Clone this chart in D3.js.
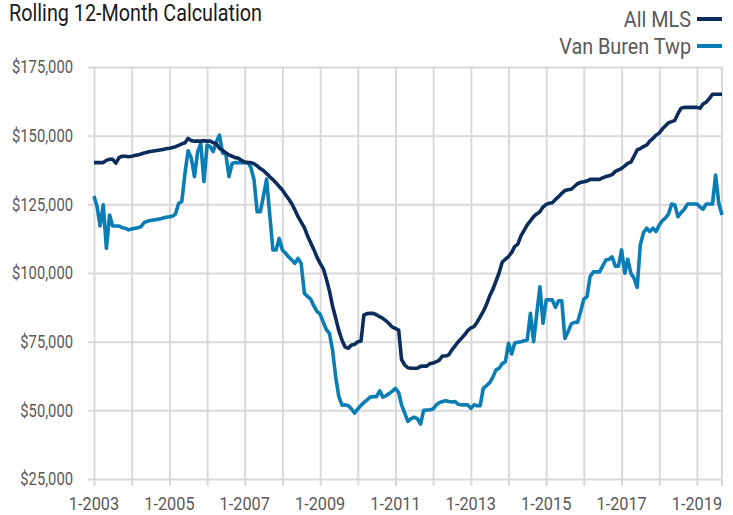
<!DOCTYPE html>
<html>
<head>
<meta charset="utf-8">
<script src="https://cdn.jsdelivr.net/npm/d3@7/dist/d3.min.js"></script>
<style>
  body { margin: 0; background: #fff; }
  svg text { font-family: "Liberation Sans Narrow", "Arial Narrow", Roboto, sans-serif; }
</style>
</head>
<body>
<div id="chart"></div>
<script>
// Rolling 12-month values, in thousands of dollars, monthly from 1-2003 to 9-2019
const allMls = [
  140.2, 140.2, 140.2, 140.2, 141.0, 141.4, 141.4, 140.0, 142.0, 142.5, 142.5, 142.3,
  142.5, 142.8, 143.0, 143.3, 143.7, 144.0, 144.2, 144.4, 144.6, 144.8, 145.0, 145.2,
  145.4, 145.7, 146.0, 146.5, 147.0, 147.4, 149.0, 148.2, 148.0, 148.0, 148.0, 148.2,
  148.0, 148.0, 147.5, 147.0, 145.4, 144.6, 143.8, 143.0, 142.5, 142.0, 141.8, 141.0,
  140.4, 140.2, 140.2, 139.8, 139.0, 138.0, 137.3, 136.2, 135.0, 134.0, 132.8, 131.5,
  130.2, 128.5, 127.0, 125.2, 123.0, 120.5, 118.5, 116.5, 113.5, 111.0, 108.5, 105.8,
  103.5, 101.5, 98.0, 93.5, 88.0, 83.5, 79.0, 75.5, 73.0, 72.6, 73.8, 74.0,
  75.0, 75.2, 84.7, 85.2, 85.3, 85.3, 84.8, 84.1, 83.5, 82.6, 81.5, 80.3,
  79.8, 79.2, 68.5, 66.5, 65.5, 65.3, 65.3, 65.3, 66.0, 66.1, 66.1, 67.0,
  67.2, 67.7, 68.3, 69.8, 69.8, 70.2, 72.0, 73.5, 75.0, 76.2, 77.5, 79.0,
  80.0, 80.5, 82.0, 84.0, 86.0, 88.5, 91.5, 94.0, 97.0, 100.0, 104.0, 105.0,
  106.0, 107.5, 109.6, 110.5, 113.5, 115.5, 117.5, 119.0, 120.5, 121.5, 122.3, 124.0,
  125.0, 125.4, 125.6, 126.8, 127.8, 129.0, 130.0, 130.3, 130.5, 131.5, 132.5, 133.0,
  133.2, 133.5, 134.1, 134.1, 134.1, 134.1, 134.6, 135.1, 135.4, 135.8, 137.0, 137.5,
  138.1, 139.0, 139.9, 140.4, 142.5, 144.8, 145.3, 146.0, 146.6, 148.0, 149.0, 150.2,
  151.0, 152.5, 153.5, 154.7, 155.1, 155.6, 158.0, 160.0, 160.3, 160.3, 160.3, 160.3,
  160.3, 160.0, 161.5, 162.2, 163.5, 165.1, 165.1, 165.1, 165.1
];

const vanBuren = [
  128.0, 124.0, 117.1, 124.8, 109.0, 121.1, 117.1, 117.1, 117.1, 116.5, 116.3, 115.7,
  116.0, 116.3, 116.5, 116.9, 118.4, 118.8, 119.1, 119.3, 119.5, 119.7, 120.0, 120.3,
  120.5, 120.7, 121.5, 125.4, 126.0, 136.3, 144.5, 141.8, 135.1, 144.0, 147.2, 133.3,
  146.6, 146.0, 144.2, 147.8, 150.2, 143.6, 143.6, 135.1, 139.9, 140.2, 140.2, 140.2,
  140.2, 140.2, 138.5, 134.0, 122.3, 122.3, 128.0, 134.2, 121.0, 108.4, 108.4, 112.6,
  108.4, 107.2, 105.9, 104.7, 103.5, 105.3, 103.5, 92.6, 91.5, 90.5, 88.0, 86.0,
  85.0, 82.0, 79.5, 78.0, 72.0, 62.0, 55.0, 51.9, 52.0, 51.7, 50.5, 49.0,
  50.5, 51.8, 52.8, 53.8, 54.8, 55.0, 55.0, 57.1, 54.8, 55.3, 56.1, 57.0,
  58.0, 56.5, 52.0, 49.0, 46.0, 47.0, 47.5, 47.0, 45.0, 50.0, 50.1, 50.2,
  50.5, 52.0, 52.8, 53.2, 53.5, 53.2, 53.0, 53.2, 52.2, 52.0, 52.0, 52.0,
  50.7, 52.0, 51.7, 51.7, 58.0, 59.0, 60.0, 62.0, 64.7, 65.3, 67.0, 67.7,
  74.4, 70.5, 74.4, 74.8, 75.0, 75.3, 75.6, 85.3, 75.0, 85.0, 95.0, 81.7,
  90.2, 90.2, 90.2, 87.5, 89.9, 89.9, 76.2, 78.6, 81.5, 82.0, 82.1, 86.0,
  90.5, 91.4, 98.6, 100.4, 100.4, 100.4, 102.5, 104.7, 105.0, 105.9, 102.5, 102.5,
  108.4, 99.9, 105.0, 99.9, 98.1, 94.8, 110.2, 114.7, 116.3, 115.1, 116.3, 115.1,
  117.5, 119.1, 120.0, 121.5, 125.1, 124.8, 120.5, 122.0, 123.2, 125.1, 125.1, 125.1,
  125.1, 124.0, 123.2, 125.1, 125.1, 125.1, 135.7, 125.4, 121.1
];

const seriesNames = ["All MLS", "Van Buren Twp"];
const seriesColors = ["#0c2d5c", "#0a7db4"];
const yTicks = [25000, 50000, 75000, 100000, 125000, 150000, 175000];
const labelYears = [2003, 2005, 2007, 2009, 2011, 2013, 2015, 2017, 2019];

const W = 733, H = 515;
const plot = { left: 94, right: 722, top: 67, bottom: 479 };

const months = d3.timeMonth.range(new Date(2003, 0, 1), new Date(2019, 9, 1));

const x = d3.scaleTime()
    .domain([months[0], months[months.length - 1]])
    .range([plot.left, plot.right]);

const y = d3.scaleLinear()
    .domain([25000, 175000])
    .range([plot.bottom, plot.top]);

const svg = d3.select("#chart").append("svg")
    .attr("width", W)
    .attr("height", H);

// squeeze text horizontally, the original uses a condensed face
function condense(sel, k) {
    sel.each(function () {
        const w = this.getComputedTextLength();
        d3.select(this)
            .attr("textLength", w * k)
            .attr("lengthAdjust", "spacingAndGlyphs");
    });
}

// horizontal grid + y labels
const yAxis = svg.append("g")
    .attr("transform", "translate(" + plot.right + ",0)")
    .call(d3.axisLeft(y)
        .tickValues(yTicks)
        .tickSize(plot.right - plot.left + 6)
        .tickPadding(15)
        .tickFormat(d => "$" + d3.format(",")(d)));
yAxis.select(".domain").remove();
yAxis.selectAll("line").attr("stroke", "#d9d9d9").attr("stroke-width", 2);
yAxis.selectAll("text")
    .attr("fill", "#595959")
    .style("font-size", "18px")
    .call(condense, 0.82);

// vertical grid, one line per year
const years = d3.timeYear.range(new Date(2003, 0, 1), new Date(2019, 1, 1));
const xAxis = svg.append("g")
    .attr("transform", "translate(0," + plot.bottom + ")")
    .call(d3.axisBottom(x)
        .tickValues(years)
        .tickFormat(""));
xAxis.select(".domain").remove();
xAxis.selectAll("line")
    .attr("y2", -(plot.bottom - plot.top))
    .attr("y1", 7)
    .attr("stroke", "#d9d9d9").attr("stroke-width", 2);

// right border line
svg.append("line")
    .attr("x1", plot.right).attr("x2", plot.right)
    .attr("y1", plot.top).attr("y2", plot.bottom + 7)
    .attr("stroke", "#d9d9d9").attr("stroke-width", 2);

// x labels every two years
svg.append("g").selectAll("text")
    .data(labelYears)
    .enter().append("text")
    .attr("x", d => x(new Date(d, 0, 1)))
    .attr("y", 510)
    .attr("text-anchor", "middle")
    .attr("fill", "#595959")
    .style("font-size", "18.5px")
    .text(d => "1-" + d)
    .call(condense, 0.88);

// lines
const line = d3.line()
    .x((d, i) => x(months[i]))
    .y(d => y(d * 1000));

[vanBuren, allMls].forEach((s, k) => {
    svg.append("path")
        .datum(s)
        .attr("fill", "none")
        .attr("stroke", k === 0 ? seriesColors[1] : seriesColors[0])
        .attr("stroke-width", 3.6)
        .attr("stroke-linejoin", "round")
        .attr("d", line);
});

// title
svg.append("text")
    .attr("x", 9)
    .attr("y", 21)
    .attr("fill", "#1a1a1a")
    .style("font-size", "23px")
    .text("Rolling 12-Month Calculation")
    .call(condense, 0.86);

// legend
const legend = svg.append("g").selectAll("g")
    .data(seriesNames)
    .enter().append("g")
    .attr("transform", (d, i) => "translate(0," + (19 + i * 27) + ")");

legend.append("line")
    .attr("x1", 697).attr("x2", 722)
    .attr("stroke", (d, i) => seriesColors[i])
    .attr("stroke-width", 4);

legend.append("text")
    .attr("x", 691)
    .attr("y", 8)
    .attr("text-anchor", "end")
    .attr("fill", "#595959")
    .style("font-size", "22px")
    .text(d => d)
    .call(condense, 0.9);
</script>
</body>
</html>
